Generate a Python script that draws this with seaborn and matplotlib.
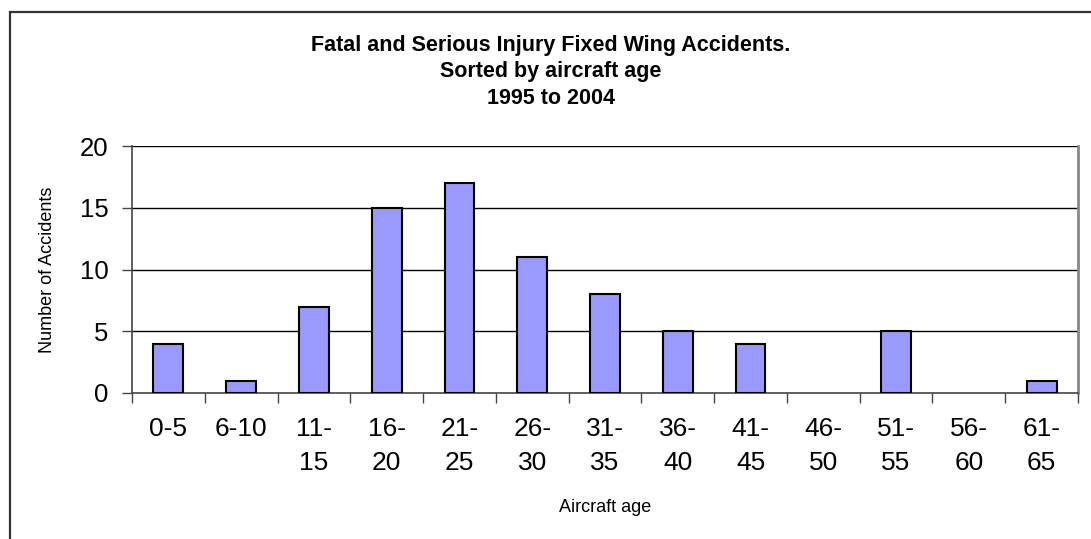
import matplotlib
matplotlib.use('Agg')
import matplotlib.pyplot as plt
import seaborn as sns
import pandas as pd
from matplotlib.patches import Rectangle

# data
age_bands = ['0-5', '6-10', '11-\n15', '16-\n20', '21-\n25', '26-\n30', '31-\n35',
             '36-\n40', '41-\n45', '46-\n50', '51-\n55', '56-\n60', '61-\n65']
accidents = [4, 1, 7, 15, 17, 11, 8, 5, 4, 0, 5, 0, 1]
y_ticks = [0, 5, 10, 15, 20]

sns.set_theme(style='white')
plt.rcParams['font.family'] = ['Liberation Sans', 'DejaVu Sans']
plt.rcParams['text.color'] = 'black'
plt.rcParams['axes.labelcolor'] = 'black'
plt.rcParams['xtick.color'] = 'black'
plt.rcParams['ytick.color'] = 'black'

df = pd.DataFrame({'band': age_bands, 'count': accidents})

fig = plt.figure(figsize=(10.91, 5.39), dpi=100)
ax = fig.add_axes([132 / 1091, 1 - 393 / 539, (1078 - 132) / 1091, (393 - 146) / 539])

sns.barplot(data=df, x='band', y='count', color='#9999FF', edgecolor='black',
            linewidth=1.5, width=0.41, saturation=1, ax=ax, zorder=3)
# empty bands draw nothing
for bar in ax.patches:
    if bar.get_height() == 0:
        bar.set_linewidth(0)

ax.set_ylim(0, 20)
ax.set_xlim(-0.5, len(age_bands) - 0.5)
ax.set_yticks(y_ticks)
ax.set_yticklabels([str(v) for v in y_ticks], fontsize=18.5)
for v in y_ticks[1:]:
    ax.axhline(v, color='black', linewidth=1, zorder=1)

ax.set_xticks(range(len(age_bands)))
ax.set_xticklabels(age_bands, fontsize=19, linespacing=1.55, va='top')
ax.set_xticks([i - 0.5 for i in range(len(age_bands) + 1)], minor=True)
ax.tick_params(axis='x', which='major', length=0, pad=17)
ax.tick_params(axis='x', which='minor', length=7, width=1, color='#444444', direction='out', bottom=True)
ax.tick_params(axis='y', length=7, width=1, color='#444444', direction='out', left=True, pad=10)

for side in ['left', 'bottom']:
    ax.spines[side].set_color('#444444')
    ax.spines[side].set_linewidth(1.2)
ax.spines['top'].set_visible(False)
ax.spines['right'].set_color('#888888')
ax.spines['right'].set_linewidth(2)

ax.set_xlabel('Aircraft age', fontsize=13, labelpad=17)
ax.set_ylabel('Number of Accidents', fontsize=13, labelpad=17)

fig.text(0.505, 1 - 72 / 539, 'Fatal and Serious Injury Fixed Wing Accidents.\nSorted by aircraft age\n1995 to 2004',
         ha='center', va='center', fontsize=15.5, fontweight='bold', linespacing=1.35)

# outer chart frame (cut off on the right and bottom)
fig.patches.append(Rectangle((10 / 1091, -0.1), 1.2, 1.1 - 12 / 539, transform=fig.transFigure,
                             fill=False, edgecolor='#333333', linewidth=1.6))

fig.savefig('out.png', dpi=100)
